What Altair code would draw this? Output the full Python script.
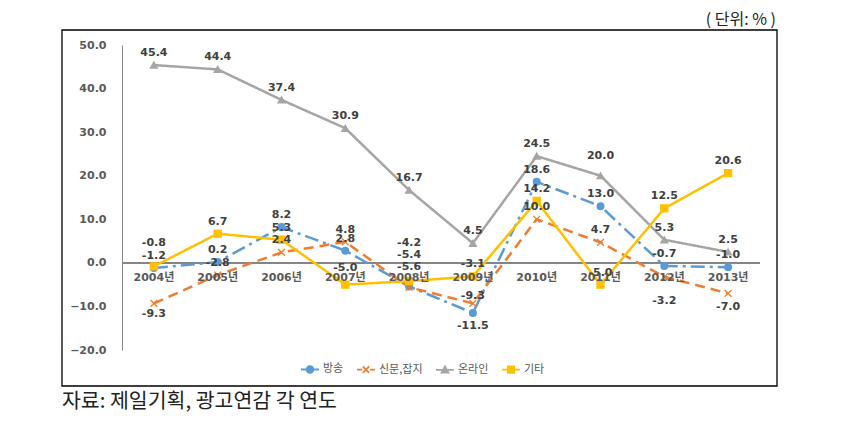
import altair as alt
import pandas as pd

years = ["2004년", "2005년", "2006년", "2007년", "2008년",
         "2009년", "2010년", "2011년", "2012년", "2013년"]
series_names = ["방송", "신문,잡지", "온라인", "기타"]
broadcast = [-1.2, 0.2, 8.2, 2.8, -5.4, -11.5, 18.6, 13.0, -0.7, -1.0]
press = [-9.3, -2.8, 2.4, 4.8, -5.6, -9.3, 10.0, 4.7, -3.2, -7.0]
online = [45.4, 44.4, 37.4, 30.9, 16.7, 4.5, 24.5, 20.0, 5.3, 2.5]
other = [-0.8, 6.7, 5.3, -5.0, -4.2, -3.1, 14.2, -5.0, 12.5, 20.6]
colors = ["#5B9BD5", "#ED7D31", "#A5A5A5", "#FFC000"]

# label placement (pixel offset of the value label from its point; negative = above)
label_offsets = {
    ("신문,잡지", "2004년"): 11, ("방송", "2009년"): 13,
    ("신문,잡지", "2012년"): 24, ("신문,잡지", "2013년"): 14,
    ("기타", "2008년"): -38, ("방송", "2008년"): -31, ("신문,잡지", "2008년"): -20,
    ("온라인", "2011년"): -20, ("기타", "2007년"): -17, ("신문,잡지", "2009년"): -7,
    ("기타", "2004년"): -23,
}

W, H = 638, 305
Y_MIN, Y_MAX = -20, 50
px_per_unit = H / (Y_MAX - Y_MIN)

rows = []
for s, vals in zip(series_names, [broadcast, press, online, other]):
    for yr, v in zip(years, vals):
        dy = label_offsets.get((s, yr), -12)
        rows.append({"year": yr, "series": s, "value": v, "label": f"{v:.1f}",
                     "label_pos": v - dy / px_per_unit})
df = pd.DataFrame(rows)
year_df = pd.DataFrame({"year": years})

num_font = "DejaVu Sans, Noto Sans CJK KR"

xs = alt.Scale(type="point", domain=years, padding=0.5)
ys = alt.Scale(domain=[Y_MIN, Y_MAX], nice=False, zero=False)
X = alt.X("year:N", scale=xs, axis=None, sort=years)
Y = alt.Y("value:Q", scale=ys, title=None,
          axis=alt.Axis(values=[-20, -10, 0, 10, 20, 30, 40, 50], format=".1f",
                        grid=False, ticks=False, labelPadding=16,
                        labelFont=num_font, labelFontWeight="bold", labelFontSize=11,
                        labelColor="#595959", domainColor="#868686", domainWidth=1))

cscale = alt.Scale(domain=series_names, range=colors)

zero_rule = alt.Chart(year_df).mark_rule(color="#868686", strokeWidth=1).encode(
    y=alt.datum(0, scale=ys)
)

lines = alt.Chart(df).mark_line(strokeWidth=2.5, strokeCap="butt").encode(
    x=X, y=Y,
    color=alt.Color("series:N", scale=cscale, legend=None),
    strokeDash=alt.StrokeDash("series:N", legend=None,
                              scale=alt.Scale(domain=series_names,
                                              range=[[14, 5, 3, 5], [10, 6], [1, 0], [1, 0]])),
)

points = alt.Chart(df).mark_point(strokeWidth=1.3, opacity=1).encode(
    x=X, y=Y,
    fill=alt.Fill("series:N", scale=cscale, legend=None),
    stroke=alt.Stroke("series:N", scale=cscale, legend=None),
    shape=alt.Shape("series:N", legend=None,
                    scale=alt.Scale(domain=series_names,
                                    range=["circle", "M-1,-1L1,1M-1,1L1,-1", "triangle-up", "square"])),
    size=alt.Size("series:N", legend=None,
                  scale=alt.Scale(domain=series_names, range=[45, 50, 32, 60])),
)

labels = alt.Chart(df).mark_text(font=num_font, fontWeight="bold", fontSize=11,
                                  color="#404040").encode(
    x=X, y=alt.Y("label_pos:Q", scale=ys, title=None), text="label:N",
)

year_labels = alt.Chart(year_df).mark_text(font=num_font, fontWeight="bold", fontSize=11,
                                           color="#595959", dy=15).encode(
    x=X, y=alt.datum(0, scale=ys), text="year:N"
)

legend_paths = [
    "M-1,0L1,0M0.38,0A0.38,0.38,0,1,1,-0.38,0A0.38,0.38,0,1,1,0.38,0Z",
    "M-1,0L-0.45,0M0.45,0L1,0M-0.35,-0.35L0.35,0.35M-0.35,0.35L0.35,-0.35",
    "M-1,0L1,0M0,-0.38L0.38,0.3L-0.38,0.3Z",
    "M-1,0L1,0M-0.35,-0.35L0.35,-0.35L0.35,0.35L-0.35,0.35Z",
]
leg = alt.Legend(orient="none", legendX=178, legendY=314, direction="horizontal",
                 title=None, labelFont="Noto Sans CJK KR", labelFontSize=11,
                 labelColor="#595959", symbolSize=324, symbolStrokeWidth=1.8,
                 columnPadding=9, labelOffset=3, padding=0)
legend_layer = alt.Chart(df).transform_filter("false").mark_point(
    filled=True, size=324, strokeWidth=1.8, opacity=1).encode(
    shape=alt.Shape("series:N", scale=alt.Scale(domain=series_names, range=legend_paths), legend=leg),
    fill=alt.Fill("series:N", scale=cscale, legend=leg),
    stroke=alt.Stroke("series:N", scale=cscale, legend=leg),
)

one = alt.Data(values=[{"a": 1}])
border = alt.Chart(one).mark_rect(fill=None, stroke="#000000", strokeWidth=1.3).encode(
    x=alt.value(-60), x2=alt.value(655), y=alt.value(-15), y2=alt.value(341)
)
unit_title = alt.Chart(one).mark_text(text="( 단위:  % )", font="Noto Sans CJK KR",
                                      fontSize=16, color="#222222", align="right",
                                      baseline="middle").encode(
    x=alt.value(654), y=alt.value(-25)
)
footer = alt.Chart(one).mark_text(text="자료: 제일기획, 광고연감 각 연도", font="Noto Sans CJK KR",
                                  fontSize=20.5, color="#222222", align="left",
                                  baseline="middle").encode(
    x=alt.value(-60), y=alt.value(357)
)

chart = alt.layer(
    zero_rule, lines, points, labels, year_labels, legend_layer, border, unit_title, footer
).resolve_scale(
    shape="independent", fill="independent", stroke="independent", size="independent"
).properties(
    width=W, height=H,
    autosize=alt.AutoSizeParams(type="none"),
    padding={"left": 114, "top": 37, "right": 88, "bottom": 81},
    background="white",
).configure_view(stroke=None)

chart.save("out.html", embed_options={"renderer": "svg", "actions": False})
